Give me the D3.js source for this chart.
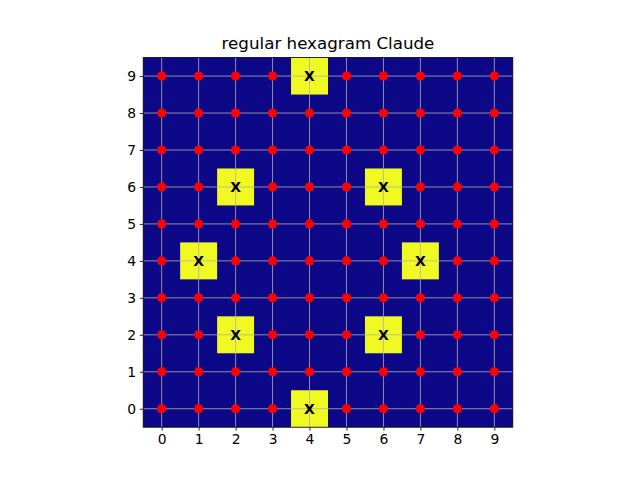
<!DOCTYPE html>
<html><head><meta charset="utf-8">
<script src="https://cdn.jsdelivr.net/npm/d3@7"></script>
<style>body{margin:0;background:#fff;} svg{display:block;} text{font-family:"DejaVu Sans",sans-serif;}</style>
</head><body>
<script>
const title = "regular hexagram Claude";
const xTicks = [0,1,2,3,4,5,6,7,8,9];
const yTicks = [0,1,2,3,4,5,6,7,8,9];
const starX = [4, 2, 6, 1, 7, 2, 6, 4];
const starY = [9, 6, 6, 4, 4, 2, 2, 0];
const starLabel = "X";

const W = 640, H = 480;
const pL = 143.2, pR = 512.8, pT = 57.6, pB = 427.2;
const svg = d3.select("body").append("svg").attr("width", W).attr("height", H);

const x = d3.scaleLinear().domain([-0.5, 9.5]).range([pL, pR]);
const y = d3.scaleLinear().domain([-0.5, 9.5]).range([pB, pT]);

const cells = [];
for (const yy of yTicks) for (const xx of xTicks) {
  const isStar = starX.some((sx, i) => sx === xx && starY[i] === yy);
  cells.push({x: xx, y: yy, star: isStar});
}
const cw = x(0.5) - x(-0.5), ch = y(-0.5) - y(0.5);

svg.append("rect").attr("x", pL).attr("y", pT).attr("width", pR-pL).attr("height", pB-pT).attr("fill", "#0d0887");
svg.append("g").selectAll("rect").data(cells.filter(d => d.star)).join("rect")
  .attr("x", d => x(d.x - 0.5)).attr("y", d => y(d.y + 0.5))
  .attr("width", cw).attr("height", ch).attr("fill", "#f0f921");

// grid
const grid = svg.append("g").attr("stroke", "#b0b0b0").attr("stroke-width", 0.8);
xTicks.forEach(t => grid.append("line").attr("x1", x(t)).attr("x2", x(t)).attr("y1", pT).attr("y2", pB));
yTicks.forEach(t => grid.append("line").attr("y1", y(t)).attr("y2", y(t)).attr("x1", pL).attr("x2", pR));

// dots
svg.append("g").selectAll("circle").data(cells.filter(d => !d.star)).join("circle")
  .attr("cx", d => x(d.x)).attr("cy", d => y(d.y)).attr("r", 4.6).attr("fill", "#ff0000");

// X labels
svg.append("g").selectAll("text").data(cells.filter(d => d.star)).join("text")
  .attr("x", d => x(d.x)).attr("y", d => y(d.y)).attr("dy", "0.36em")
  .attr("text-anchor", "middle").attr("font-weight", "bold").attr("font-size", 14)
  .attr("fill", "#000").text(starLabel);

// frame
svg.append("rect").attr("x", pL).attr("y", pT).attr("width", pR-pL).attr("height", pB-pT)
  .attr("fill", "none").attr("stroke", "#000").attr("stroke-width", 0.8);

// axes
const xAxis = d3.axisBottom(x).tickValues(xTicks).tickSize(3.5).tickPadding(3.5);
const yAxis = d3.axisLeft(y).tickValues(yTicks).tickSize(3.5).tickPadding(3.5);
const gx = svg.append("g").attr("transform", `translate(0,${pB})`).call(xAxis);
const gy = svg.append("g").attr("transform", `translate(${pL},0)`).call(yAxis);
[gx, gy].forEach(g => {
  g.select(".domain").remove();
  g.selectAll("line").attr("stroke", "#000").attr("stroke-width", 0.8);
  g.selectAll("text").attr("font-size", 13.9).attr("fill", "#000").style("font-family", "DejaVu Sans");
});

svg.append("text").attr("x", (pL+pR)/2).attr("y", 49).attr("text-anchor", "middle")
  .attr("font-size", 16.7).attr("fill", "#000").text(title);
</script>
</body></html>
